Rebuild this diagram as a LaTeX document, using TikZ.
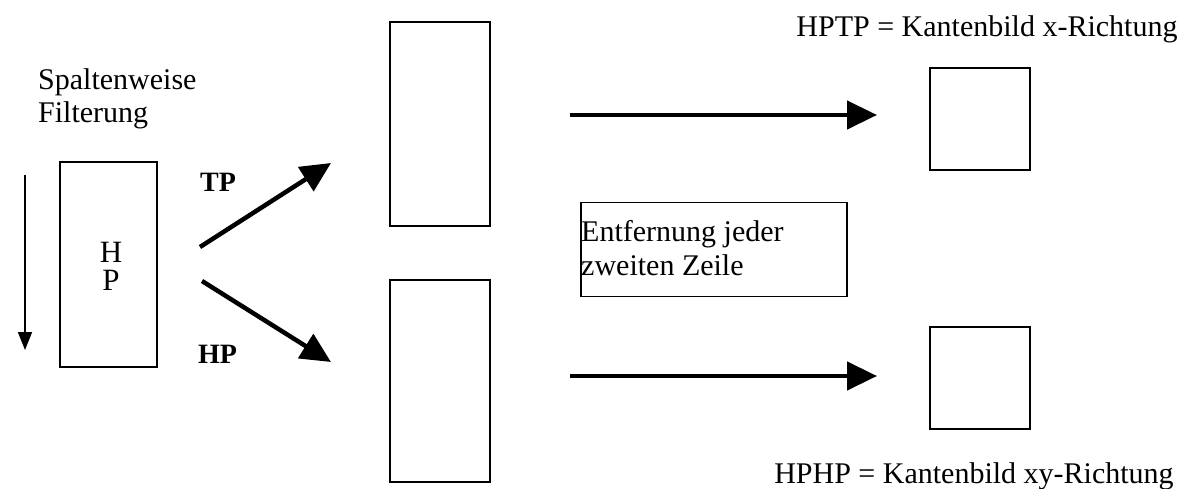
\documentclass[tikz,border=0pt]{standalone}
\usepackage{fontspec}
\setmainfont{Liberation Serif}
\usetikzlibrary{arrows.meta}
\begin{document}
\begin{tikzpicture}[x=1pt,y=-1pt,
  box/.style={draw,line width=1.6pt,inner sep=0pt},
  lbl/.style={font=\fontsize{30}{33}\selectfont,inner sep=0pt},
  big/.style={font=\fontsize{31}{28}\selectfont,inner sep=0pt,anchor=base,align=center},
  bold/.style={font=\fontsize{28}{30}\selectfont\bfseries,inner sep=0pt,anchor=base west},
  fat/.style={line width=4.5pt,-{Triangle[length=30pt,width=28pt]}},
  thin/.style={line width=1.8pt,-{Triangle[length=18pt,width=14pt]}}]
\useasboundingbox (0,0) rectangle (1194,489);
% input column with the filter
\node[box,minimum width=97pt,minimum height=205pt] (hp) at (108.5,264.5) {};
\node[big] (hpt) at (111,290) {H\\P};
\node[lbl,anchor=base west,align=left] (title) at (38,123) {Spaltenweise\\Filterung};
\coordinate (dtop) at (25,175);
\coordinate (dbot) at (25,350);
\draw[thin] (dtop) -- (dbot);
% split into low and high pass
\coordinate (tps) at (200,247);
\coordinate (tpe) at (331,163);
\coordinate (hps) at (202,281);
\coordinate (hpe) at (331,362);
\draw[fat] (tps) -- (tpe);
\draw[fat] (hps) -- (hpe);
\node[bold] (tp) at (200,192) {TP};
\node[bold] (hpl) at (198,363) {HP};
% intermediate columns
\node[box,minimum width=100pt,minimum height=204pt] (mt) at (440,124) {};
\node[box,minimum width=100pt,minimum height=202pt] (mb) at (440,381) {};
% row removal
\node[box,minimum width=266pt,minimum height=94pt] (rm) at (714,249.5) {};
\node[lbl,anchor=base west,align=left] (rmt) at (581,275) {Entfernung jeder\\zweiten Zeile};
\coordinate (at1) at (570,115);
\coordinate (at2) at (877,115);
\coordinate (ab1) at (570,376);
\coordinate (ab2) at (877,376);
\draw[fat] (at1) -- (at2);
\draw[fat] (ab1) -- (ab2);
% resulting images
\node[box,minimum width=100pt,minimum height=102pt] (rt) at (980,119) {};
\node[box,minimum width=100pt,minimum height=102pt] (rb) at (980,378) {};
\node[lbl,anchor=base] (lt) at (987,37) {HPTP = Kantenbild x-Richtung};
\node[lbl,anchor=base] (lb) at (974,483) {HPHP = Kantenbild xy-Richtung};
\end{tikzpicture}
\end{document}
